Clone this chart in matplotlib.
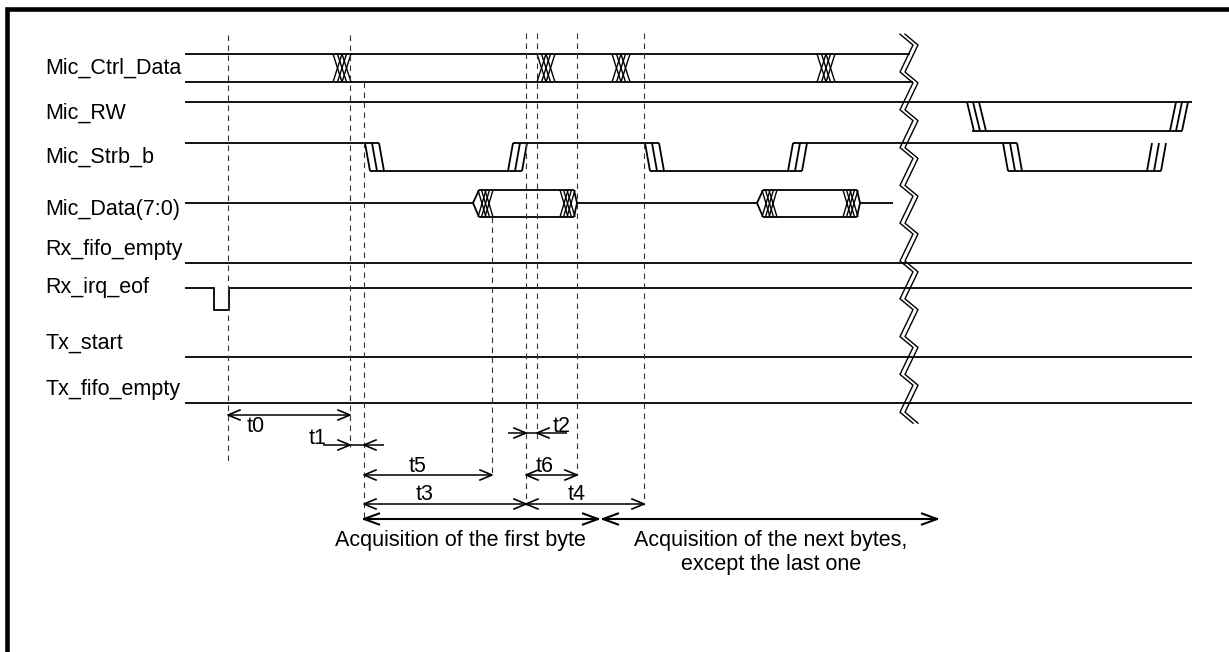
import numpy as np
import matplotlib.pyplot as plt

plt.rcParams['font.family'] = ['Liberation Sans', 'DejaVu Sans']

# signal names and where their labels sit
signal_names = ['Mic_Ctrl_Data', 'Mic_RW', 'Mic_Strb_b', 'Mic_Data(7:0)',
                'Rx_fifo_empty', 'Rx_irq_eof', 'Tx_start', 'Tx_fifo_empty']
label_y = [68, 113, 157, 210, 250, 287, 343, 390]

# time axis (diagram units)
t_start = 185
t_end = 1192

# Mic_Ctrl_Data : bus changes
ctrl_changes = [333, 537, 612, 817]
ctrl_end = 910
# Mic_RW : one low pulse after the break
rw_fall = 967
rw_rise = 1170
# Mic_Strb_b : strobe edges
strb_fall = [365, 645, 1003]
strb_rise = [508, 788, 1147]
# Mic_Data(7:0) : valid windows
data_valid = [(473, 577), (757, 860)]
data_end = 893
# Rx_irq_eof : short low pulse
irq_pulse = (214, 229)

# levels of each lane
ctrl_top, ctrl_bot = 54, 82
rw_hi, rw_lo = 102, 131
strb_hi, strb_lo = 143, 171
data_mid, data_top, data_bot = 203, 190, 217
rx_empty_y = 263
irq_hi, irq_lo = 288, 310
tx_start_y = 357
tx_empty_y = 403

# vertical reference lines
marker_x = [228, 350, 364, 492, 526, 537, 577, 644]
marker_top = [35, 35, 82, 217, 33, 33, 33, 33]
marker_bot = [465, 447, 519, 475, 505, 440, 475, 505]

# timing spans (inner arrows)
span_names = ['t0', 't5', 't6', 't3', 't4']
span_from = [228, 364, 526, 364, 526]
span_to = [350, 492, 577, 526, 644]
span_y = [415, 475, 475, 504, 504]
span_lx = [256, 418, 545, 425, 577]
span_ly = [426, 467, 467, 495, 495]

# short timings (outside arrows)
short_names = ['t1', 't2']
short_from = [350, 526]
short_to = [364, 537]
short_y = [445, 433]
short_ext = [(323, 384), (508, 567)]
short_lx = [318, 562]
short_ly = [438, 427]

# phase arrows
phase_names = ['Acquisition of the first byte',
               'Acquisition of the next bytes,\nexcept the last one']
phase_from = [364, 603]
phase_to = [598, 937]
phase_lx = [460, 771]
phase_y = 519

fig = plt.figure(figsize=(12.29, 6.52), dpi=100)
ax = fig.add_axes([0, 0, 1, 1])
ax.set_xlim(0, 1229)
ax.set_ylim(652, 0)
ax.axis('off')

sig = dict(color='black', lw=1.3, solid_capstyle='butt')
arr = dict(color='black', lw=1.1, solid_capstyle='butt')
fs = 15.5


def line(xs, ys, **kw):
    style = dict(sig)
    style.update(kw)
    ax.plot(xs, ys, **style)


def slants(x0, y_from, y_to, d=7, s=5):
    for k in range(3):
        line([x0 + k * d, x0 + k * d + s], [y_from, y_to])


def crosses(x0, top, bot, w=9, d=4.5):
    for k in range(3):
        line([x0 + k * d, x0 + k * d + w], [top, bot], lw=1.0)
        line([x0 + k * d, x0 + k * d + w], [bot, top], lw=1.0)


def head(x, y, direction, L=12, W=5, lw=1.2):
    ax.plot([x - direction * L, x, x - direction * L], [y - W, y, y + W],
            color='black', lw=lw)


# frame
line([6.5, 6.5, 1229], [652, 9, 9], lw=3.3, solid_joinstyle='miter')

# labels
for name, y in zip(signal_names, label_y):
    ax.text(45, y, name, fontsize=fs, ha='left', va='center')

# Mic_Ctrl_Data
line([t_start, ctrl_end], [ctrl_top, ctrl_top])
line([t_start, ctrl_end + 3], [ctrl_bot, ctrl_bot])
for t in ctrl_changes:
    crosses(t, ctrl_top, ctrl_bot)

# Mic_RW
line([t_start, t_end], [rw_hi, rw_hi])
line([rw_fall + 5, rw_rise + 12], [rw_lo, rw_lo])
slants(rw_fall, rw_hi, rw_lo, d=6, s=7)
slants(rw_rise, rw_lo, rw_hi, d=6, s=6)

# Mic_Strb_b
edges = sorted([(t, 'f') for t in strb_fall] + [(t, 'r') for t in strb_rise])
x_prev, level = t_start, 'hi'
for t, kind in edges:
    y = strb_hi if level == 'hi' else strb_lo
    line([x_prev, t + 14], [y, y])
    if kind == 'f':
        slants(t, strb_hi, strb_lo)
        level = 'lo'
    else:
        slants(t, strb_lo, strb_hi)
        level = 'hi'
    x_prev = t + 5

# Mic_Data(7:0)
x_prev = t_start
for a, b in data_valid:
    line([x_prev, a], [data_mid, data_mid])
    line([a, a + 6], [data_mid, data_top])
    line([a, a + 6], [data_mid, data_bot])
    line([a + 6, b - 3], [data_top, data_top])
    line([a + 6, b - 3], [data_bot, data_bot])
    line([b - 3, b], [data_top, data_mid])
    line([b - 3, b], [data_bot, data_mid])
    crosses(a + 5, data_top, data_bot, w=8, d=3.5)
    crosses(b - 17, data_top, data_bot, w=8, d=3.5)
    x_prev = b
line([x_prev, data_end], [data_mid, data_mid])

# flags
line([t_start, t_end], [rx_empty_y, rx_empty_y])
line([t_start, irq_pulse[0], irq_pulse[0], irq_pulse[1], irq_pulse[1], t_end],
     [irq_hi, irq_hi, irq_lo, irq_lo, irq_hi, irq_hi], solid_joinstyle='miter')
line([t_start, t_end], [tx_start_y, tx_start_y])
line([t_start, t_end], [tx_empty_y, tx_empty_y])

# time break (double zigzag)
zx, zy = [900], [34.2]
for k in range(10):
    y0 = 34.2 + 37.8 * k
    zx += [913, 900]
    zy += [y0 + 10.8, y0 + 37.8]
zx += [913]
zy += [zy[-1] + 11]
for off in (0, 5):
    ax.plot(np.array(zx) + off, zy, color='black', lw=1.0)

# dashed reference lines
for x, y0, y1 in zip(marker_x, marker_top, marker_bot):
    ax.plot([x, x], [y0, y1], color='#333333', lw=0.8, linestyle=(0, (5, 4)))

# spans
for name, a, b, y, lx, ly in zip(span_names, span_from, span_to, span_y,
                                 span_lx, span_ly):
    ax.plot([a, b], [y, y], **arr)
    head(a, y, -1)
    head(b, y, 1)
    ax.text(lx, ly, name, fontsize=fs, ha='center', va='center')

for name, a, b, y, ext, lx, ly in zip(short_names, short_from, short_to,
                                      short_y, short_ext, short_lx, short_ly):
    ax.plot([ext[0], ext[1]], [y, y], **arr)
    head(a, y, 1)
    head(b, y, -1)
    ax.text(lx, ly, name, fontsize=fs, ha='center', va='center')

for name, a, b, lx in zip(phase_names, phase_from, phase_to, phase_lx):
    ax.plot([a, b], [phase_y, phase_y], color='black', lw=1.5)
    head(a, phase_y, -1, L=15, W=5.5, lw=1.5)
    head(b, phase_y, 1, L=15, W=5.5, lw=1.5)
    ax.text(lx, phase_y + 11, name, fontsize=fs, ha='center',
            va='top', linespacing=1.2)

fig.savefig('out.png', dpi=100)
